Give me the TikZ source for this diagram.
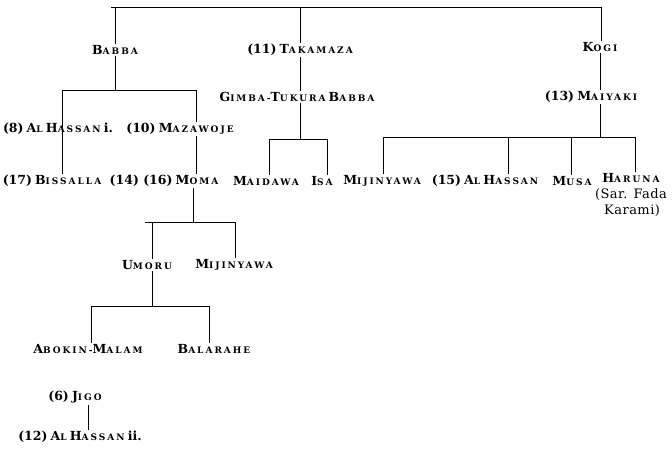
\documentclass[tikz,border=0pt]{standalone}
\usepackage{fontspec}
\setmainfont{DejaVu Serif}
\newfontfamily\scf[LetterSpace=22]{DejaVu Serif}
\newfontfamily\rgf[LetterSpace=3.5]{DejaVu Serif}
\newcommand\nm[2]{{\scf\bfseries\fontsize{12.5}{14}\selectfont #1\fontsize{9}{11}\selectfont #2}}
\newcommand\nb[1]{{\bfseries\fontsize{12.5}{14}\selectfont #1}}
\newcommand\rg[1]{{\rgf\fontsize{13}{16}\selectfont #1}}
\tikzset{
  nm/.style={inner sep=1.5pt, anchor=center},
  ln/.style={line width=0.9pt, black}
}
\begin{document}
\begin{tikzpicture}[x=1pt,y=-1pt]
\useasboundingbox (0,0) rectangle (672,455);
% nodes
\node[nm] (babba) at (115,50) {\nm{B}{ABBA}};
\node[nm] (takamaza) at (300,50) {\nb{(11)} \nm{T}{AKAMAZA}};
\node[nm] (kogi) at (600,47) {\nm{K}{OGI}};
\node[nm] (alhassan1) at (58,129) {\nb{(8)} \nm{A}{L} \nm{H}{ASSAN} \nb{i.}};
\node[nm] (mazawoje) at (180,129) {\nb{(10)} \nm{M}{AZAWOJE}};
\node[nm] (gimba) at (297,97) {\nm{G}{IMBA-}\nm{T}{UKURA} \nm{B}{ABBA}};
\node[nm] (maiyaki) at (591,97) {\nb{(13)} \nm{M}{AIYAKI}};
\node[nm] (bissalla) at (52,181) {\nb{(17)} \nm{B}{ISSALLA}};
\node[nm] (moma) at (164,181) {\nb{(14) (16)} \nm{M}{OMA}};
\node[nm] (maidawa) at (266,181) {\nm{M}{AIDAWA}};
\node[nm] (isa) at (322,181) {\nm{I}{SA}};
\node[nm] (mijinyawa) at (382,181) {\nm{M}{IJINYAWA}};
\node[nm] (alhassan15) at (485,181) {\nb{(15)} \nm{A}{L} \nm{H}{ASSAN}};
\node[nm] (musa) at (572,181) {\nm{M}{USA}};
\node[nm, anchor=north, align=center, inner sep=1.5pt, font=\fontsize{13}{16}\selectfont] (haruna) at (631,172)
  {\nm{H}{ARUNA}\\\rg{(Sar. Fada}\\\rg{\,Karami)}};
\node[nm] (umoru) at (147,265) {\nm{U}{MORU}};
\node[nm] (mijinyawa2) at (234,265) {\nm{M}{IJINYAWA}};
\node[nm] (abokin) at (88,349) {\nm{A}{BOKIN-}\nm{M}{ALAM}};
\node[nm] (balarahe) at (214,349) {\nm{B}{ALARAHE}};
\node[nm] (jigo) at (75,397) {\nb{(6)} \nm{J}{IGO}};
\node[nm] (alhassan2) at (80,437) {\nb{(12)} \nm{A}{L} \nm{H}{ASSAN} \nb{ii.}};
% coordinates of bars
\coordinate (topL) at (111,7);
\coordinate (topR) at (601,7);
\coordinate (b1L) at (62,90);
\coordinate (b1R) at (196,90);
\coordinate (g1L) at (269,139);
\coordinate (g1R) at (327,139);
\coordinate (g0) at (300,139);
\coordinate (k1L) at (383,137);
\coordinate (k1R) at (635,137);
\coordinate (k2) at (508,137);
\coordinate (k3) at (571,137);
\coordinate (k0) at (600,137);
\coordinate (m0) at (193,222);
\coordinate (m1L) at (145,222);
\coordinate (m1R) at (235,222);
\coordinate (mU) at (152,222);
\coordinate (u1L) at (91,306);
\coordinate (u1R) at (209,306);
\coordinate (u0) at (152,306);
\coordinate (j0) at (88,420);
% connectors
\draw[ln] (topL) -- (topR);
\draw[ln] (topL -| babba) -- (babba.north);
\draw[ln] (topL -| takamaza) -- (takamaza.north);
\draw[ln] (topR) -- (topR |- kogi.north);
\draw[ln] (babba.south) -- (babba.south |- b1L);
\draw[ln] (b1L) -- (b1R);
\draw[ln] (b1L) -- (b1L |- bissalla.north);
\draw[ln] (b1R) -- (b1R |- mazawoje.north);
\draw[ln] (mazawoje.south -| b1R) -- (moma.north -| b1R);
\draw[ln] (takamaza.south) -- (takamaza.south |- gimba.north);
\draw[ln] (gimba.south -| g0) -- (g0);
\draw[ln] (g1L) -- (g1R);
\draw[ln] (g1L) -- (g1L |- maidawa.north);
\draw[ln] (g1R) -- (g1R |- isa.north);
\draw[ln] (kogi.south -| k0) -- (k0 |- maiyaki.north);
\draw[ln] (maiyaki.south -| k0) -- (k0);
\draw[ln] (k1L) -- (k1R);
\draw[ln] (k1L) -- (k1L |- mijinyawa.north);
\draw[ln] (k2) -- (k2 |- alhassan15.north);
\draw[ln] (k3) -- (k3 |- musa.north);
\draw[ln] (k1R) -- (k1R |- haruna.north);
\draw[ln] (moma.south -| m0) -- (m0);
\draw[ln] (m1L) -- (m1R);
\draw[ln] (mU) -- (mU |- umoru.north);
\draw[ln] (m1R) -- (m1R |- mijinyawa2.north);
\draw[ln] (umoru.south -| u0) -- (u0);
\draw[ln] (u1L) -- (u1R);
\draw[ln] (u1L) -- (u1L |- abokin.north);
\draw[ln] (u1R) -- (u1R |- balarahe.north);
\draw[ln] (jigo.south -| j0) -- (alhassan2.north -| j0);
\end{tikzpicture}
\end{document}
